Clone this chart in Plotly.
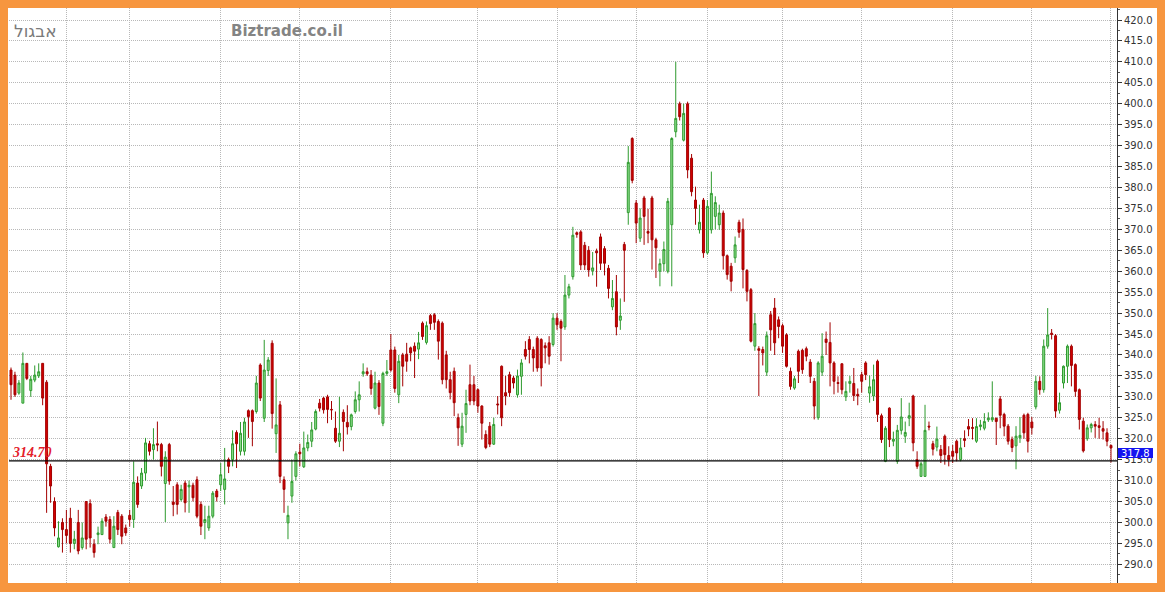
import plotly.graph_objects as go

# ---- data ----
open_ = [336.4,335.2,330.9,328.5,338,331.5,334,335,338,333.5,
313.4,305,294.2,300,298.3,301,295,300,294,305,
304.5,294.8,297.1,297.1,301.3,300.7,294,302.4,301.5,298.7,
301.7,300.7,309.4,308.7,311.8,318.8,317.4,318.8,318.6,309.3,
318.6,304.9,309,305.5,309.4,308.5,308.9,310.2,304.3,300,
298.7,301.5,307.5,309,307.9,315,315,321.5,317,317,
326.7,326.7,326.5,337.6,324.9,336.3,342.8,321.2,328.1,310.2,
299.9,306.3,311,316.8,313.3,317.8,319.4,322.3,328.5,329.7,
330,327,322.5,319.4,326.3,323.9,322.9,326.5,329.3,335.5,
336,335.2,327.3,333.3,323.7,335.6,341.2,341.2,330.5,340,
340.2,341.7,342.1,341.4,347.6,343,349.4,349.6,348,347.6,
340,334.1,336.1,325,318.7,325.8,332.9,332.9,331.7,327.8,
321,323,318.7,328.3,337.3,331,335.3,334.5,330.5,334.9,
341.3,343.7,341.3,344,343.7,342.2,342.9,342.5,348.8,348,
346.7,354.3,358.7,369.2,369.4,366.2,365,360.1,364.8,368.2,
365.4,360.7,351.5,355.1,348.3,366.4,374,391.7,376.3,367.9,
377.5,369.5,377.5,367.5,360,361.8,360,371.1,393.3,400,
391.3,400,387,377,369.9,377,364.4,369.9,373.1,371.1,
373.9,363.7,361.2,363.2,371.7,370,360.2,355.6,342.1,341.5,
341.3,335.9,349.6,351.2,348.4,347,344.8,336.1,332.1,340.9,
341.1,341.5,338.3,333.7,325,335.9,343.8,343,338.1,333.4,
337.9,330,333.2,333.2,330.6,335.3,338.1,330.9,330.2,338.5,
325.5,314.6,327.3,319.4,314.6,322,320.6,324.9,330.2,315,
311,311,323,318.8,318,317.4,320.6,316,317,319.4,
315,320,322.9,322.7,319.4,322.9,322.5,324.5,324.5,324.9,
329.5,325.8,323,319.8,318.3,320.2,325.6,325.8,324,327.6,
333.7,331.7,342.1,345.2,344.6,326.8,333.3,337.3,342.1,337.7,
331.7,324.2,320,322.6,323.4,323.1,322.4,321.4,318.4]

high = [337,336,334,340.6,338,335,337.5,338,338,334,
314,306,300.3,301,303,303.5,298,303,300,305,
305.5,296,299,301,302,301.5,301.5,303,302,299.5,
303,314.6,311,313,320.2,319.5,322.5,324.1,319,317,
319,308.7,309.6,309,310,310,309.5,311,305,304,
304,307.5,308,314.2,317.8,315.5,322,322,324,325,
327,327,335,338,343.6,339.5,343.5,334.4,329,311,
304,315,317,318.8,321.7,321,324,327,329.5,330,
330.5,329,326.5,330,327,328,326,331.3,333.7,338,
337,336.4,336,334,336,338.8,345,342,340,340.5,
342.9,342,343,345.5,348,348,349.8,350,348.5,348,
341,336,337,326,326.2,331.7,337.7,335,332,328,
322,324,325,330.2,337.5,335,336,335,336.5,339,
343.3,344.5,342,344.5,344,343,344.5,350,350,348.5,
359.1,357,370.6,369.5,369.8,367,366,364.6,365.4,369,
366,361.5,357.9,359.1,353.5,367,389.9,392,377,375,
378,374.9,378,368,363,367.1,377.5,392,410,400.5,
400,400.5,388,380.2,375.9,377.5,377,383.8,377.9,375.9,
374.5,364,362,368.3,372.3,372.6,360.5,356,350,342.1,
342,345.6,350.5,353.6,349.2,347.5,345.2,337,335,341.3,
341.5,342,339,334.5,338.5,345.2,345.6,347.8,338.5,334.9,
338,333.7,335,336.9,332,336,338.5,335.1,337.7,338.9,
326,323,327.5,321.7,323.3,329.7,324.1,328.6,330.5,317,
314.5,328.1,324.1,319.5,322.9,318.5,321,318.2,318.5,319.8,
320.2,322,324.7,324.9,324.9,324.5,326.1,326.3,333.7,325,
330.2,326.2,323.5,320.5,323,325.2,326,326.2,325.2,335,
334.9,343.7,351.2,346.2,345,331,337.5,342.5,342.5,338,
332,325,323.4,323.8,324.2,325,324.2,322.5,318.6]

low = [329.3,330,330.5,328.5,334,330,333.5,334.5,328,302.3,
304.7,296.7,294,292.8,295,292.8,293.6,292.4,293.5,293.6,
294,291.6,294.8,297,299,295,294,297,294.8,296.8,
299,298.7,303.5,308,310,316,315,317,311,300.1,
309,301.5,301.9,305,302.4,302.3,305,301,297,296,
298,301,305,307.5,304.3,311.8,313.4,313,316,316,
320.2,318.2,326,329,324,335,322.4,316.6,309.4,302.3,
296,304.7,310,313.4,313,317,318,322,326.5,326,
323.7,324.5,319,318,317,321,322,326,326.5,334.8,
335,330.5,327,325.7,323,335,336,331,328.5,332.5,
336,338.5,334.5,339,343.6,342.5,346,346,338.9,333,
332,329.4,325.4,318.3,318,321.4,328,328,326.2,319.8,
317.5,318,318.5,325.8,323,328,330,332,329.8,330.5,
338.9,338,336,336,332.5,338,337.7,342,346,338.5,
346,353.5,358,368,360.3,360.3,358.7,359,356.3,360.3,
359,353.5,350.7,344.7,346,352.7,371.1,381,366.7,367,
366.3,366.7,360.4,358.4,356.4,360,359.5,356.4,392,396,
391,382.2,377.9,371.1,369,363.2,364,369,370,369.9,
360.4,358,355.2,362,368,355.9,352.8,343,341,330.2,
337.5,335,341,340,344,340.5,337,331.7,331.7,333.3,
335.5,338.5,333.3,324.6,324.5,335,340,332.5,330.6,331,
330.6,329,331,329,328,331,334,328.6,329,324,
319,314.4,318,318.2,314,321,319,323,317,312.8,
311,311,322,316,317,314.2,313.8,313.4,314.2,314.6,
314.6,318,320.6,319.8,319,322,322,324,324,318.5,
322.5,320.6,318.6,316.8,312.7,319,320,316.7,321,327,
330.5,331,341.5,343.7,325,326,332,333.3,332.5,330,
322.2,316.7,319.5,321.5,320.2,320,319.8,318.2,314.3]

close = [332.9,330.5,333.3,338,334.4,334.2,335.2,336,329.7,314,
308.7,298.7,296.3,298.3,296.9,295,296,293.2,296.3,296,
296.3,292.8,297.5,300.3,300.3,296,299.1,298.3,296.7,297.5,
300.7,309.6,304.3,311.8,319,317,318.6,318.5,313.4,315.6,
309.9,304.3,304.3,307.9,304.7,308.9,305.9,301.5,299.1,300.7,
301.5,307,306.1,311.4,310.4,313.4,318.8,318.8,321.3,324,
325.3,324.1,333.3,329.7,336.4,338.8,326,323.3,311,307.9,
301.7,309.8,316.4,316.4,317.8,319.1,322.1,326.5,327.3,326.9,
327,326.9,319.4,321.3,324.1,322.8,325.7,329.3,330.5,336,
335.5,332,333.3,327.7,335.6,336,336.4,332,338.5,337.3,
338.5,340.5,340.9,342.9,344.4,347,347.5,347.8,343.3,334.1,
334.1,331,328.6,322.6,323,328.4,329,329,327.8,323.7,
317.9,318.7,323.4,328.1,325,330.2,331,333.3,335,338.1,
339.7,341.3,339.3,336.9,336.9,341.7,339.7,348.8,347.2,346.4,
354.3,356.3,368.6,368.8,361.5,361.5,360.3,360.8,364.4,361.9,
361.9,355.9,353.5,346.7,349.3,365,386,381.7,371.5,372.7,
373.1,369.1,367.5,365.6,361.8,365.2,376.7,391.7,396.5,396.9,
397.7,384.2,379,375,371.7,364.4,375.5,378.6,376.4,373.9,
363.7,359.2,357.6,366.3,369.3,360.4,355.2,343.3,347.5,341.1,
340.5,344.6,346,342.9,346.8,342.1,337.3,332.5,334.3,336.1,
336.5,339.7,334.9,327.8,338.1,339.7,343,338.1,333.7,333.2,
331.7,331.3,333.7,330.3,330.2,333.7,335.3,332.4,334.1,325.8,
319.8,322.5,319.8,319.9,322,325.2,321.5,325.5,319,313.4,
314,322,322.8,317.5,319.9,316,316.2,315,315.8,316.6,
317.8,319.6,322.3,322.5,322.9,323.3,324.1,324.9,325,324.1,
325.6,323,319.4,317.9,320.6,320.8,321.4,319.4,322.6,333.7,
331.7,342.1,344.8,344.9,326.6,328.6,337.3,342.1,337.5,331.3,
324.6,317.1,322.6,323.4,323,322.7,321.8,319.4,317.8]

day_index = list(range(len(close)))
month_starts = [14, 30, 53, 73, 96, 118, 138, 158, 176, 195, 215, 238, 258, 278]
ref_price = 314.70
last_price = 317.8
ref_label = "314.70"
last_label = "317.8"
title_he = "אבגול"
site_label = "Biztrade.co.il"

# ---- layout geometry ----
W, H = 1165, 592
ML, MR, MT, MB = 9, 48, 8, 9
PW = W - ML - MR
PH = H - MT - MB

def px_x(p):
    return (p - ML) / PW

def px_y(p):
    return 1 - (p - MT) / PH

ORANGE = "#F7963F"
GRID = "#B8B8B8"

fig = go.Figure()
fig.add_trace(go.Candlestick(
    x=day_index, open=open_, high=high, low=low, close=close,
    increasing=dict(fillcolor="#8FE08F", line=dict(color="#2E9A2E", width=1)),
    decreasing=dict(fillcolor="#D40000", line=dict(color="#A30000", width=1)),
    whiskerwidth=0, showlegend=False, hoverinfo="skip",
))

fig.update_layout(
    width=W, height=H,
    margin=dict(l=ML, r=MR, t=MT, b=MB, pad=0),
    paper_bgcolor=ORANGE,
    plot_bgcolor="white",
    showlegend=False,
    font=dict(family="DejaVu Sans", size=10, color="#333333"),
    xaxis=dict(
        range=[-0.505, 279.52],
        tickmode="array", tickvals=month_starts, showticklabels=False, ticks="",
        showgrid=True, gridcolor=GRID, griddash="1px,1px", gridwidth=1,
        zeroline=False, showline=False, fixedrange=True,
        rangeslider=dict(visible=False),
    ),
    yaxis=dict(
        side="right", range=[285.54, 422.87],
        tick0=0, dtick=5, tickformat=".1f",
        ticks="outside", ticklen=4, tickcolor="#333333", tickwidth=1,
        minor=dict(dtick=2.5, ticks="outside", ticklen=2, tickcolor="#555555", showgrid=False),
        showgrid=True, gridcolor=GRID, griddash="1px,1px", gridwidth=1,
        showline=True, linecolor="#333333", linewidth=1,
        zeroline=False, fixedrange=True,
        tickfont=dict(family="DejaVu Sans", size=10, color="#333333"),
    ),
    shapes=[
        # white panel behind plot and axis labels
        dict(type="rect", xref="paper", yref="paper", layer="below",
             x0=px_x(8), x1=px_x(1157), y0=px_y(583), y1=px_y(8),
             fillcolor="white", line=dict(width=0)),
        # reference price line
        dict(type="line", xref="paper", yref="y", x0=0, x1=1,
             y0=ref_price, y1=ref_price, line=dict(color="#000000", width=1.4)),
        # last price box on axis
        dict(type="rect", xref="paper", yref="paper",
             x0=px_x(1118), x1=px_x(1153), y0=px_y(458), y1=px_y(448),
             fillcolor="#1414F0", line=dict(width=0)),
    ],
    annotations=[
        dict(text=title_he, xref="paper", yref="paper", x=px_x(12), y=px_y(31),
             xanchor="left", yanchor="middle", showarrow=False,
             font=dict(family="DejaVu Sans", size=17, color="#7A7A7A")),
        dict(text="<b>" + site_label + "</b>", xref="paper", yref="paper",
             x=px_x(229), y=px_y(31), xanchor="left", yanchor="middle", showarrow=False,
             font=dict(family="DejaVu Sans", size=15, color="#848484")),
        dict(text="<b><i>" + ref_label + "</i></b>", xref="paper", yref="paper",
             x=px_x(10), y=px_y(452), xanchor="left", yanchor="middle", showarrow=False,
             font=dict(family="Liberation Serif", size=14, color="#E3202A")),
        dict(text=last_label, xref="paper", yref="paper",
             x=px_x(1135.5), y=px_y(453), xanchor="center", yanchor="middle", showarrow=False,
             font=dict(family="DejaVu Sans", size=10, color="white")),
    ],
)

fig.write_html(
    "out.html",
    config={"displayModeBar": False, "staticPlot": True},
    post_script="document.body.style.margin='0';document.body.style.overflow='hidden';",
)
